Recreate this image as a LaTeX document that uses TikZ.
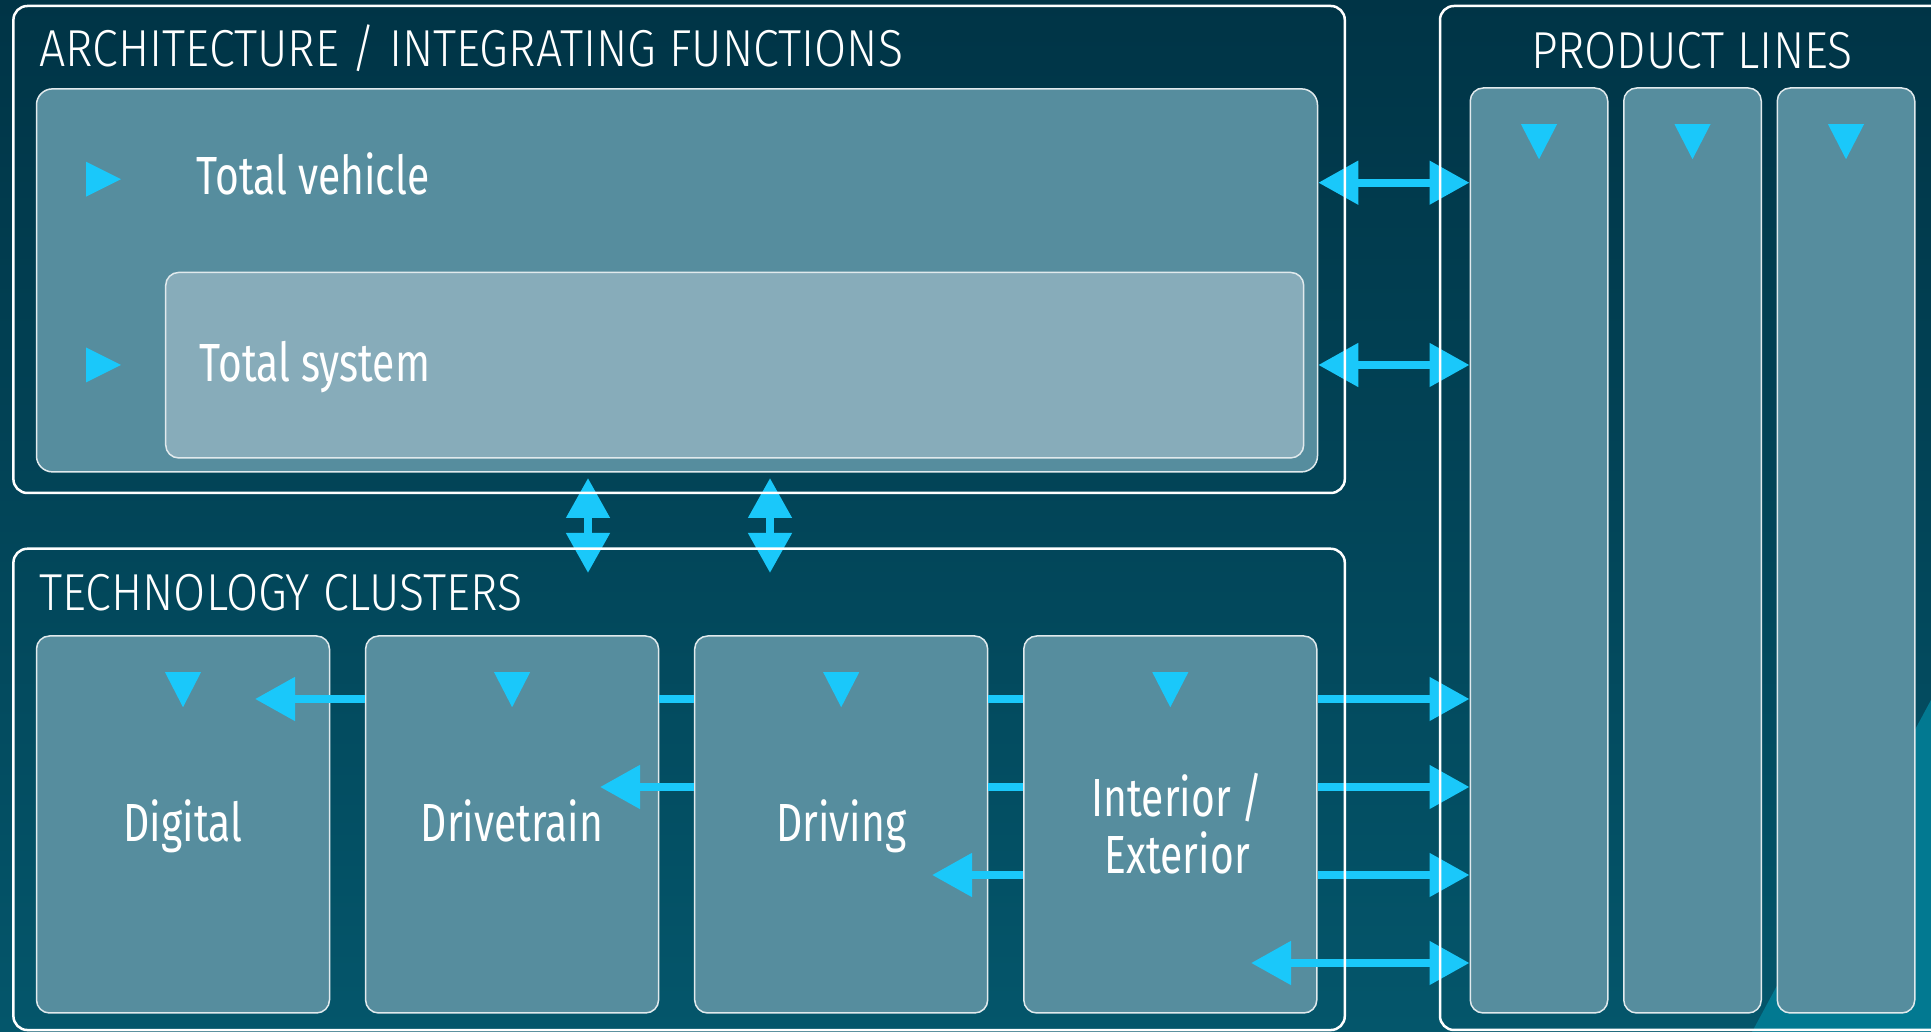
\documentclass[tikz,border=0pt]{standalone}
\usepackage{fontspec}
\setmainfont{Fira Sans}[FakeStretch=0.76]
\newfontfamily\titlefamily{Fira Sans Light}[FakeStretch=0.895]
\usetikzlibrary{positioning,arrows.meta,calc}

\definecolor{bgtop}{RGB}{0,52,70}
\definecolor{bgbottom}{RGB}{4,86,107}
\definecolor{corner}{RGB}{2,121,145}
\definecolor{panel}{RGB}{86,141,158}
\definecolor{panellight}{RGB}{135,172,186}
\definecolor{edge}{RGB}{225,234,237}
\definecolor{signal}{RGB}{26,200,250}

\newcommand{\labelfont}{\fontsize{53.7}{57.3}\selectfont}
\newcommand{\titlefont}{\titlefamily\fontsize{52}{57.3}\selectfont}
\newcommand{\downmark}[1]{\fill[signal] ($(#1.north)+(-18,-37)$) -- ++(36,0) -- ++(-18,-35) -- cycle;}

\tikzset{
	frame/.style={draw=white, line width=2.5pt, rounded corners=14pt, inner sep=0pt},
	panelbox/.style={draw=edge, line width=1.5pt, fill=panel, rounded corners=13pt, inner sep=0pt},
	cluster/.style={panelbox, minimum width=293pt, minimum height=377pt},
	lane/.style={panelbox, minimum width=137.5pt, minimum height=925pt},
	heading/.style={text=white, font=\labelfont, inner sep=0pt},
	title/.style={text=white, font=\titlefont, inner sep=0pt},
	link/.style={draw=signal, line width=8pt, -{Triangle[length=40pt,width=42pt]}},
	dlink/.style={draw=signal, line width=8pt, {Triangle[length=40pt,width=42pt]}-{Triangle[length=40pt,width=42pt]}},
	bar/.style={draw=signal, line width=8pt}
}

\begin{document}
\begin{tikzpicture}[x=1pt,y=1pt]
		
		% Background
		\clip (0,0) rectangle (1931,1032);
		\shade[top color=bgtop, bottom color=bgbottom] (0,0) rectangle (1931,1032);
		\fill[corner] (1931,332) -- (1752,0) -- (1931,0) -- cycle;
		
		% Architecture
		\node[panelbox, rounded corners=16pt, minimum width=1281pt,
		minimum height=383pt] (vehicle) at (677,751.6) {};
		\node[panelbox, fill=panellight, minimum width=1138pt,
		minimum height=185.5pt] (system) at (734.7,666.8) {};
		
		\node[title, anchor=base west] (archtitle) at (39.3,965.3) {ARCHITECTURE / INTEGRATING FUNCTIONS};
		\node[heading, anchor=base west] (vehiclelabel) at (196.4,837) {Total vehicle};
		\node[heading, anchor=base west] (systemlabel) at (199.5,650.3) {Total system};
		
		\fill[signal] (86,870.3) -- (86,835.3) -- (121,852.8) -- cycle;
		\fill[signal] (86,684.5) -- (86,649.5) -- (121,667) -- cycle;
		
		% Technology clusters
		\node[cluster] (digital) at (183,207.5) {};
		\node[cluster, right=34.6pt of digital] (drivetrain) {};
		\node[cluster, right=34.6pt of drivetrain] (driving) {};
		\node[cluster, right=34.6pt of driving] (interior) {};
		
		\node[title, anchor=base west] (techtitle) at (39.3,421.3) {TECHNOLOGY CLUSTERS};
		\coordinate (lbl) at (0,190.3);
		\node[heading, anchor=base] (digitallabel) at (digital |- lbl) {Digital};
		\node[heading, anchor=base] (drivetrainlabel) at (drivetrain |- lbl) {Drivetrain};
		\node[heading, anchor=base] (drivinglabel) at (driving |- lbl) {Driving};
		\node[heading, anchor=center, align=center] (interiorlabel) at ($(interior)+(7,1)$) {Interior /\\Exterior};
		
		% Product lines
		\node[lane] (line1) at (1539,481.5) {};
		\node[lane, right=14.5pt of line1] (line2) {};
		\node[lane, right=14.5pt of line2] (line3) {};
		
		\node[title, anchor=base] (pltitle) at (1692,963.7) {PRODUCT LINES};
		
		\foreach \n in {digital,drivetrain,driving,interior,line1,line2,line3}
		{\downmark{\n}}
		
		% Connections
		\coordinate (av1) at (0,849.3);
		\coordinate (av2) at (0,667);
		\draw[dlink] (vehicle.east |- av1) -- (line1.west |- av1);
		\draw[dlink] (vehicle.east |- av2) -- (line1.west |- av2);
		
		\coordinate (up1) at (588,554);
		\coordinate (dn1) at (588,459);
		\coordinate (up2) at (770,554);
		\coordinate (dn2) at (770,459);
		\draw[dlink] (up1) -- (dn1);
		\draw[dlink] (up2) -- (dn2);
		
		\coordinate (r1) at (0,333);
		\coordinate (r2) at (0,245);
		\coordinate (r3) at (0,157);
		\coordinate (r4) at (0,69);
		\coordinate (tip1) at (255,333);
		\coordinate (tip2) at (600,245);
		\coordinate (tip3) at (932,157);
		\coordinate (tip4) at (1251,69);
		
		\draw[link] (drivetrain.west |- r1) -- (tip1);
		\draw[bar] (driving.west |- r1) -- (drivetrain.east |- r1);
		\draw[bar] (interior.west |- r1) -- (driving.east |- r1);
		\draw[link] (driving.west |- r2) -- (tip2);
		\draw[bar] (interior.west |- r2) -- (driving.east |- r2);
		\draw[link] (interior.west |- r3) -- (tip3);
		
		\draw[link] (interior.east |- r1) -- (line1.west |- r1);
		\draw[link] (interior.east |- r2) -- (line1.west |- r2);
		\draw[link] (interior.east |- r3) -- (line1.west |- r3);
		\draw[dlink] (tip4) -- (line1.west |- r4);
		
		% Frames
		\node[frame, minimum width=1331.4pt, minimum height=487pt] (arch) at (679.1,782.5) {};
		\node[frame, minimum width=1331.4pt, minimum height=481.3pt] (tech) at (679.1,242.6) {};
		\node[frame, minimum width=520pt, minimum height=1024pt] (lines) at (1700,514) {};
	\end{tikzpicture}
\end{document}
